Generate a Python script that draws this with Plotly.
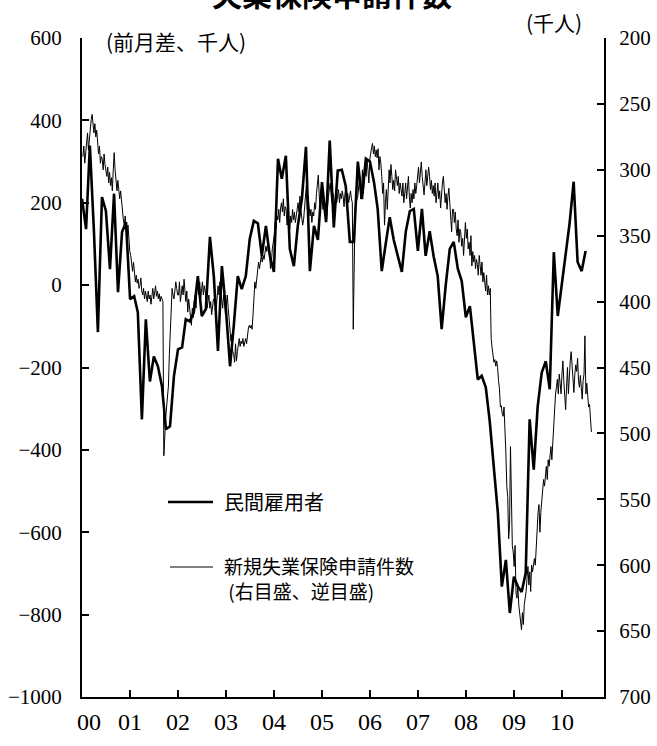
import plotly.graph_objects as go
import pandas as pd

# ---------------- data ----------------
# Private payrolls, month-on-month change (thousands), Jan 2000 - Jul 2010
payroll_2000 = [210, 136, 339, 130, -114, 214, 180, 39, 222, -17, 129, 153]
payroll_2001 = [-34, -27, -66, -326, -83, -234, -173, -197, -246, -350, -343, -221]
payroll_2002 = [-156, -151, -83, -88, -66, 22, -75, -58, 117, 20, -160, 46]
payroll_2003 = [-60, -197, -100, 22, -10, 22, 112, 156, 150, 71, 144, 71]
payroll_2004 = [32, 307, 258, 314, 88, 46, 144, 209, 336, 34, 144, 110]
payroll_2005 = [250, 153, 351, 140, 278, 280, 240, 105, 105, 300, 209, 307]
payroll_2006 = [300, 250, 185, 34, 100, 165, 110, 71, 32, 130, 180, 185]
payroll_2007 = [83, 185, 71, 131, 70, 22, -107, 0, 88, 105, 40, 10]
payroll_2008 = [-78, -51, -131, -229, -220, -248, -330, -440, -553, -732, -667, -796]
payroll_2009 = [-708, -732, -745, -699, -326, -448, -295, -212, -185, -253, 80, -75]
payroll_2010 = [7, 80, 150, 251, 56, 34, 83]

# Initial jobless claims, weekly (thousands), from week ending 8 Jan 2000
claims_2000 = [290, 282, 295, 285, 280, 272, 285, 276, 270, 262, 258, 268, 272, 265, 275, 270, 280,
               288, 282, 295, 290, 292, 300, 288, 296, 302, 305, 298, 310, 302, 312, 306, 316, 300,
               287, 300, 312, 316, 308, 318, 322, 316, 326, 332, 338, 342, 335, 345, 352, 342, 358, 362]
claims_2001 = [365, 372, 377, 370, 378, 385, 380, 386, 383, 390, 388, 382, 392, 395, 390, 398, 392,
               396, 400, 392, 398, 395, 402, 396, 390, 398, 394, 388, 396, 392, 398, 394, 400, 396,
               398, 400, 517, 500, 489, 480, 470, 464, 440, 420, 400, 390, 395, 398, 392, 385, 390, 395]
claims_2002 = [395, 385, 400, 390, 388, 395, 383, 392, 400, 392, 408, 398, 405, 410, 418, 405, 412,
               400, 395, 405, 390, 388, 395, 385, 398, 392, 385, 395, 388, 392, 398, 405, 400, 395,
               405, 400, 410, 402, 398, 400, 395, 405, 392, 388, 395, 385, 392, 398, 405, 395, 400, 410]
claims_2003 = [400, 395, 405, 412, 420, 430, 425, 438, 440, 446, 432, 445, 438, 430, 428, 434, 430,
               432, 428, 434, 430, 428, 432, 425, 420, 418, 420, 418, 421, 410, 395, 385, 390, 382,
               378, 370, 375, 368, 365, 370, 365, 368, 360, 358, 362, 355, 360, 365, 375, 370, 360, 355]
claims_2004 = [350, 340, 345, 335, 338, 330, 340, 329, 325, 332, 322, 335, 328, 330, 342, 335, 340,
               345, 335, 340, 330, 338, 332, 340, 335, 328, 325, 332, 320, 330, 335, 342, 338, 330,
               325, 312, 330, 320, 328, 335, 330, 340, 332, 335, 325, 330, 318, 310, 304, 320, 328, 315]
claims_2005 = [320, 330, 325, 335, 330, 338, 325, 320, 315, 310, 320, 325, 318, 322, 330, 318, 325,
               320, 315, 325, 318, 322, 316, 320, 328, 318, 315, 322, 318, 325, 320, 316, 322, 325,
               421, 350, 330, 325, 322, 320, 312, 305, 322, 315, 300, 318, 305, 298, 305, 292, 300, 310]
claims_2006 = [292, 285, 283, 280, 288, 282, 290, 285, 291, 284, 300, 290, 295, 305, 318, 310, 342,
               325, 315, 330, 312, 300, 310, 296, 305, 315, 308, 316, 300, 310, 312, 305, 318, 310,
               315, 320, 310, 325, 318, 310, 322, 315, 305, 320, 329, 318, 325, 315, 322, 310, 318, 312]
claims_2007 = [305, 298, 310, 300, 294, 305, 315, 319, 310, 300, 312, 305, 298, 305, 315, 308, 318,
               312, 320, 310, 325, 318, 310, 322, 316, 329, 315, 310, 305, 318, 325, 318, 330, 320,
               314, 325, 335, 347, 330, 330, 340, 332, 345, 350, 338, 355, 345, 348, 358, 352, 365, 355]
claims_2008 = [340, 352, 345, 360, 355, 365, 350, 373, 362, 370, 365, 375, 368, 372, 380, 365, 375,
               380, 370, 385, 378, 385, 392, 380, 395, 388, 395, 390, 428, 435, 440, 446, 444, 449,
               445, 450, 460, 466, 480, 479, 485, 487, 480, 494, 515, 540, 548, 580, 570, 510, 540, 585]
claims_2009 = [590, 601, 585, 621, 625, 615, 630, 636, 640, 649, 636, 645, 630, 625, 620, 610, 601,
               615, 605, 620, 600, 605, 601, 595, 600, 585, 573, 560, 554, 575, 560, 550, 545, 535,
               540, 530, 525, 535, 520, 525, 515, 510, 520, 505, 495, 474, 470, 465, 459, 470, 455, 462]
claims_2010 = [470, 455, 445, 460, 470, 482, 465, 450, 470, 455, 445, 438, 450, 460, 469, 455, 448,
               453, 443, 460, 465, 456, 470, 474, 460, 455, 426, 470, 462, 474, 480, 478, 488, 499]

year_labels = ["00", "01", "02", "03", "04", "05", "06", "07", "08", "09", "10"]
year_label_dates = ["2000-02-20", "2001-01-01", "2002-01-01", "2003-01-01", "2004-01-01", "2005-01-01",
                    "2006-01-01", "2007-01-01", "2008-01-01", "2009-01-01", "2010-01-01"]
year_tick_dates = year_label_dates[1:]
left_ticks = [600, 400, 200, 0, -200, -400, -600, -800, -1000]
right_ticks = [200, 250, 300, 350, 400, 450, 500, 550, 600, 650, 700]

title_text = "失業保険申請件数"
left_unit = "(前月差、千人)"
right_unit = "(千人)"
name_payroll = "民間雇用者"
name_claims = "新規失業保険申請件数"
name_claims_note = "(右目盛、逆目盛)"

payroll = (payroll_2000 + payroll_2001 + payroll_2002 + payroll_2003 + payroll_2004 + payroll_2005
           + payroll_2006 + payroll_2007 + payroll_2008 + payroll_2009 + payroll_2010)
claims = (claims_2000 + claims_2001 + claims_2002 + claims_2003 + claims_2004 + claims_2005
          + claims_2006 + claims_2007 + claims_2008 + claims_2009 + claims_2010)
payroll_dates = pd.date_range("2000-01-01", periods=len(payroll), freq="MS")
claims_dates = pd.date_range("2000-01-08", periods=len(claims), freq="7D")

JP = "Noto Sans CJK JP"
SERIF = "Liberation Serif"
INK = "#000000"

fig = go.Figure()
fig.add_trace(go.Scatter(x=claims_dates, y=claims, yaxis="y2", mode="lines",
                         line=dict(color=INK, width=1.0), name=name_claims))
fig.add_trace(go.Scatter(x=payroll_dates, y=payroll, mode="lines",
                         line=dict(color=INK, width=2.6), name=name_payroll))

axis_common = dict(showgrid=False, zeroline=False, showline=True, linecolor=INK, linewidth=2,
                   ticks="inside", ticklen=7, tickwidth=2, tickcolor=INK, automargin=False)

fig.update_layout(
    width=657, height=746,
    margin=dict(l=82, r=53, t=38, b=49),
    plot_bgcolor="white", paper_bgcolor="white",
    showlegend=False,
    xaxis=dict(type="date", range=["2000-01-01", "2010-11-18"], tickvals=year_tick_dates,
               showticklabels=False, **axis_common),
    yaxis=dict(range=[-1000, 600], tickvals=left_ticks,
               tickfont=dict(family=SERIF, size=21, color=INK), ticklabelstandoff=14,
               **axis_common),
    yaxis2=dict(range=[700, 200], tickvals=right_ticks, overlaying="y", side="right",
                tickfont=dict(family=SERIF, size=21, color=INK), ticklabelstandoff=9,
                **axis_common),
)

PW, PH, PL, PB = 522, 659, 82, 697


def px(x):
    return (x - PL) / PW


def py(y):
    return (PB - y) / PH


ann = []
for lab, d in zip(year_labels, year_label_dates):
    ann.append(dict(x=d, xref="x", y=py(722), yref="paper", text=lab, showarrow=False,
                    xanchor="center", yanchor="middle",
                    font=dict(family=SERIF, size=24, color=INK)))
ann.append(dict(x=px(332), y=py(-7), xref="paper", yref="paper", text=title_text, showarrow=False,
                xanchor="center", yanchor="middle",
                font=dict(family=JP, size=30, color=INK, weight="bold")))
ann.append(dict(x=px(104), y=py(41), xref="paper", yref="paper", text=left_unit, showarrow=False,
                xanchor="left", yanchor="middle", font=dict(family=JP, size=21, color=INK)))
ann.append(dict(x=px(554), y=py(22), xref="paper", yref="paper", text=right_unit, showarrow=False,
                xanchor="center", yanchor="middle", font=dict(family=JP, size=21, color=INK)))
ann.append(dict(x=px(222), y=py(501), xref="paper", yref="paper", text=name_payroll, showarrow=False,
                xanchor="left", yanchor="middle", font=dict(family=JP, size=20, color=INK)))
ann.append(dict(x=px(222), y=py(578), xref="paper", yref="paper",
                text=name_claims + "<br>\u00a0" + name_claims_note, showarrow=False, align="left",
                xanchor="left", yanchor="middle", font=dict(family=JP, size=19, color=INK)))
fig.update_layout(annotations=ann)

fig.add_shape(type="line", xref="paper", yref="paper", x0=px(168), x1=px(213), y0=py(502), y1=py(502),
              line=dict(color=INK, width=2.6))
fig.add_shape(type="line", xref="paper", yref="paper", x0=px(170), x1=px(213), y0=py(567), y1=py(567),
              line=dict(color=INK, width=1.0))

fig.write_html("out.html", config={"displayModeBar": False},
               post_script="document.body.style.margin='0';")
